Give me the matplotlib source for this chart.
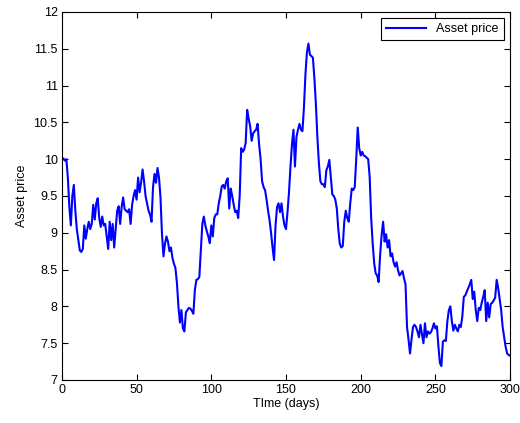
import numpy as np
import matplotlib.pyplot as plt
from matplotlib.ticker import FuncFormatter

plt.rcParams['font.family'] = ['Liberation Sans', 'DejaVu Sans']

# daily asset price path, days 0..300
price = [
    10.00, 10.01, 9.98, 10.00, 9.75, 9.35, 9.10, 9.50, 9.65, 9.30,
    9.05, 8.90, 8.76, 8.74, 8.78, 9.10, 8.92, 9.05, 9.15, 9.05,
    9.12, 9.38, 9.18, 9.40, 9.47, 9.20, 9.08, 9.22, 9.10, 9.12,
    8.95, 8.78, 9.15, 8.90, 9.12, 8.80, 9.05, 9.30, 9.36, 9.12,
    9.35, 9.48, 9.32, 9.30, 9.28, 9.32, 9.12, 9.38, 9.50, 9.58,
    9.45, 9.75, 9.55, 9.68, 9.86, 9.70, 9.50, 9.40, 9.30, 9.25,
    9.15, 9.62, 9.80, 9.68, 9.88, 9.75, 9.48, 8.98, 8.68, 8.85,
    8.95, 8.88, 8.75, 8.80, 8.66, 8.58, 8.52, 8.32, 8.00, 7.78,
    7.95, 7.70, 7.66, 7.92, 7.95, 7.98, 7.97, 7.94, 7.90, 8.22,
    8.36, 8.37, 8.40, 8.75, 9.12, 9.22, 9.10, 9.02, 8.95, 8.86,
    9.10, 8.95, 9.20, 9.25, 9.25, 9.40, 9.50, 9.63, 9.65, 9.60,
    9.70, 9.74, 9.33, 9.60, 9.50, 9.38, 9.28, 9.30, 9.20, 9.50,
    10.15, 10.10, 10.13, 10.22, 10.67, 10.55, 10.45, 10.25, 10.35, 10.38,
    10.40, 10.48, 10.20, 10.00, 9.70, 9.62, 9.58, 9.45, 9.30, 9.17,
    9.00, 8.80, 8.63, 9.10, 9.35, 9.40, 9.28, 9.40, 9.22, 9.10,
    9.05, 9.28, 9.55, 9.90, 10.20, 10.40, 9.90, 10.30, 10.40, 10.48,
    10.40, 10.38, 10.70, 11.15, 11.45, 11.57, 11.42, 11.40, 11.38, 11.10,
    10.75, 10.30, 9.95, 9.70, 9.66, 9.66, 9.62, 9.85, 9.90, 9.99,
    9.75, 9.52, 9.50, 9.45, 9.33, 9.05, 8.85, 8.80, 8.82, 9.15,
    9.30, 9.20, 9.15, 9.40, 9.60, 9.58, 9.62, 10.00, 10.43, 10.15,
    10.05, 10.10, 10.05, 10.04, 10.02, 10.00, 9.76, 9.20, 8.86, 8.59,
    8.45, 8.42, 8.33, 8.70, 8.97, 9.15, 8.88, 8.98, 8.80, 8.90,
    8.68, 8.72, 8.60, 8.54, 8.60, 8.49, 8.42, 8.45, 8.48, 8.38,
    8.30, 7.72, 7.55, 7.36, 7.55, 7.72, 7.75, 7.72, 7.66, 7.58,
    7.75, 7.62, 7.50, 7.77, 7.58, 7.66, 7.63, 7.65, 7.70, 7.77,
    7.70, 7.73, 7.46, 7.23, 7.19, 7.52, 7.54, 7.53, 7.80, 7.95,
    8.00, 7.80, 7.67, 7.75, 7.70, 7.66, 7.75, 7.72, 7.86, 8.13,
    8.15, 8.20, 8.25, 8.30, 8.36, 8.10, 8.20, 7.95, 7.80, 7.98,
    7.95, 8.05, 8.13, 8.22, 7.80, 8.05, 7.85, 8.03, 8.05, 8.08,
    8.12, 8.36, 8.25, 8.10, 7.95, 7.72, 7.58, 7.45, 7.36, 7.34,
    7.33,
]
days = np.arange(len(price))

xticks = [0, 50, 100, 150, 200, 250, 300]
yticks = [7, 7.5, 8, 8.5, 9, 9.5, 10, 10.5, 11, 11.5, 12]

fig = plt.figure(figsize=(5.2, 4.23), dpi=100)
ax = fig.add_axes([0.119, 0.1017, 0.862, 0.870])

ax.plot(days, price, color='#0000ff', lw=1.5, label='Asset price')

ax.set_xlim(0, 300)
ax.set_ylim(7, 12)
ax.set_xticks(xticks)
ax.set_yticks(yticks)
ax.yaxis.set_major_formatter(FuncFormatter(lambda v, p: f'{v:g}'))
ax.tick_params(direction='in', top=True, right=True, length=4, width=0.8,
               labelsize=9, pad=3)
for s in ax.spines.values():
    s.set_linewidth(0.8)

ax.set_xlabel('TIme (days)', fontsize=9, labelpad=1)
ax.set_ylabel('Asset price', fontsize=9, labelpad=4)

leg = ax.legend(loc='upper right', fontsize=9, fancybox=False, framealpha=1,
                edgecolor='black', borderaxespad=0.5, handlelength=3.2,
                borderpad=0.4)
leg.get_frame().set_linewidth(0.8)

fig.savefig('out.png', dpi=100)
